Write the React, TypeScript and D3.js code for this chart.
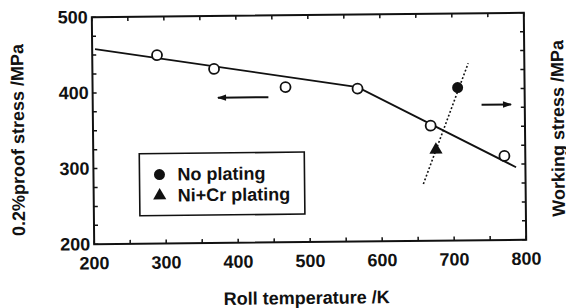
import React from "react";
import * as d3 from "d3";

const openTemps = [290, 369, 468, 568, 669, 771];
const openStress = [449, 430, 405, 402, 352, 311];
const fitTemps = [204, 568, 787];
const fitStress = [458, 404, 296];
const noPlating = [{ t: 707, s: 402 }];
const niCrPlating = [{ t: 676, s: 320 }];
const dottedTemps = [658, 722];
const dottedStress = [275, 434];
const xTicks = [200, 300, 400, 500, 600, 700, 800];
const yTicks = [200, 300, 400, 500];
const legendLabels = ["No plating", "Ni+Cr plating"];

const W = 566, H = 308;
const FONT = "'Liberation Sans', Arial, Helvetica, sans-serif";

export default function App() {
  const x = d3.scaleLinear().domain([200, 800]).range([93, 525]);
  const y = d3.scaleLinear().domain([200, 500]).range([242, 15]);
  const [x0, x1] = x.range();
  const [y1, y0] = y.range();
  const line = d3.line<[number, number]>().x(d => x(d[0])).y(d => y(d[1]));
  const fitPts = fitTemps.map((t, i) => [t, fitStress[i]] as [number, number]);
  const dotPts = dottedTemps.map((t, i) => [t, dottedStress[i]] as [number, number]);
  const minorX = d3.range(200, 801, 50);
  const minorY = d3.range(200, 501, 25);
  const tri = d3.symbol().type(d3.symbolTriangle).size(75)();
  const legendTri = d3.symbol().type(d3.symbolTriangle).size(75)();

  return (
    <svg width={W} height={H} style={{ position: "absolute", left: 0, top: 0, background: "#fff" }}>
      <defs>
        <marker id="ah" viewBox="0 0 10 10" refX="9" refY="5" markerWidth="6" markerHeight="4.5" orient="auto">
          <path d="M0,1.5 L10,5 L0,8.5 Z" fill="#111" />
        </marker>
      </defs>
      <g transform="rotate(-0.6, 309, 128)" fontFamily={FONT} fill="#111">
        <rect x={x0} y={y0} width={x1 - x0} height={y1 - y0} fill="none" stroke="#111" strokeWidth={2} />
        {minorX.map(v => (
          <g key={"tx" + v}>
            <line x1={x(v)} x2={x(v)} y1={y1} y2={y1 - 4} stroke="#111" strokeWidth={1.5} />
            <line x1={x(v)} x2={x(v)} y1={y0} y2={y0 + 4} stroke="#111" strokeWidth={1.5} />
          </g>
        ))}
        {minorY.map(v => (
          <g key={"ty" + v}>
            <line x1={x0} x2={x0 + 4} y1={y(v)} y2={y(v)} stroke="#111" strokeWidth={1.5} />
            <line x1={x1} x2={x1 - 4} y1={y(v)} y2={y(v)} stroke="#111" strokeWidth={1.5} />
          </g>
        ))}
        {xTicks.map(v => (
          <text key={"xl" + v} x={x(v)} y={y1 + 25} textAnchor="middle" fontSize={18} fontWeight="bold">{v}</text>
        ))}
        {yTicks.map(v => (
          <text key={"yl" + v} x={x0 - 4} y={y(v) + 6} textAnchor="end" fontSize={18} fontWeight="bold">{v}</text>
        ))}
        <text x={305} y={304} textAnchor="middle" fontSize={18} fontWeight="bold">Roll temperature /K</text>
        <text transform="translate(24,137) rotate(-90)" textAnchor="middle" fontSize={18} fontWeight="bold">0.2%proof stress /MPa</text>
        <text transform="translate(564,131) rotate(-90)" textAnchor="middle" fontSize={18} fontWeight="bold">Working stress /MPa</text>

        <path d={line(fitPts) || ""} fill="none" stroke="#111" strokeWidth={1.8} />
        <path d={line(dotPts) || ""} fill="none" stroke="#111" strokeWidth={1.6} strokeDasharray="2,2" />
        {openTemps.map((t, i) => (
          <circle key={"o" + i} cx={x(t)} cy={y(openStress[i])} r={5} fill="#fff" stroke="#111" strokeWidth={1.8} />
        ))}
        {noPlating.map((d, i) => (
          <circle key={"f" + i} cx={x(d.t)} cy={y(d.s)} r={5.5} fill="#111" />
        ))}
        {niCrPlating.map((d, i) => (
          <path key={"t" + i} d={tri || ""} transform={`translate(${x(d.t)},${y(d.s)})`} fill="#111" />
        ))}

        <line x1={x(444)} x2={x(374)} y1={y(392)} y2={y(392)} stroke="#111" strokeWidth={2} markerEnd="url(#ah)" />
        <line x1={x(740)} x2={x(781)} y1={y(379)} y2={y(379)} stroke="#111" strokeWidth={2} markerEnd="url(#ah)" />

        <rect x={139} y={152} width={165} height={62} fill="#fff" stroke="#111" strokeWidth={1.6} />
        <circle cx={159} cy={173} r={5.5} fill="#111" />
        <text x={177} y={179} fontSize={18} fontWeight="bold">{legendLabels[0]}</text>
        <path d={legendTri || ""} transform="translate(159,194)" fill="#111" />
        <text x={177} y={200} fontSize={18} fontWeight="bold">{legendLabels[1]}</text>
      </g>
    </svg>
  );
}
